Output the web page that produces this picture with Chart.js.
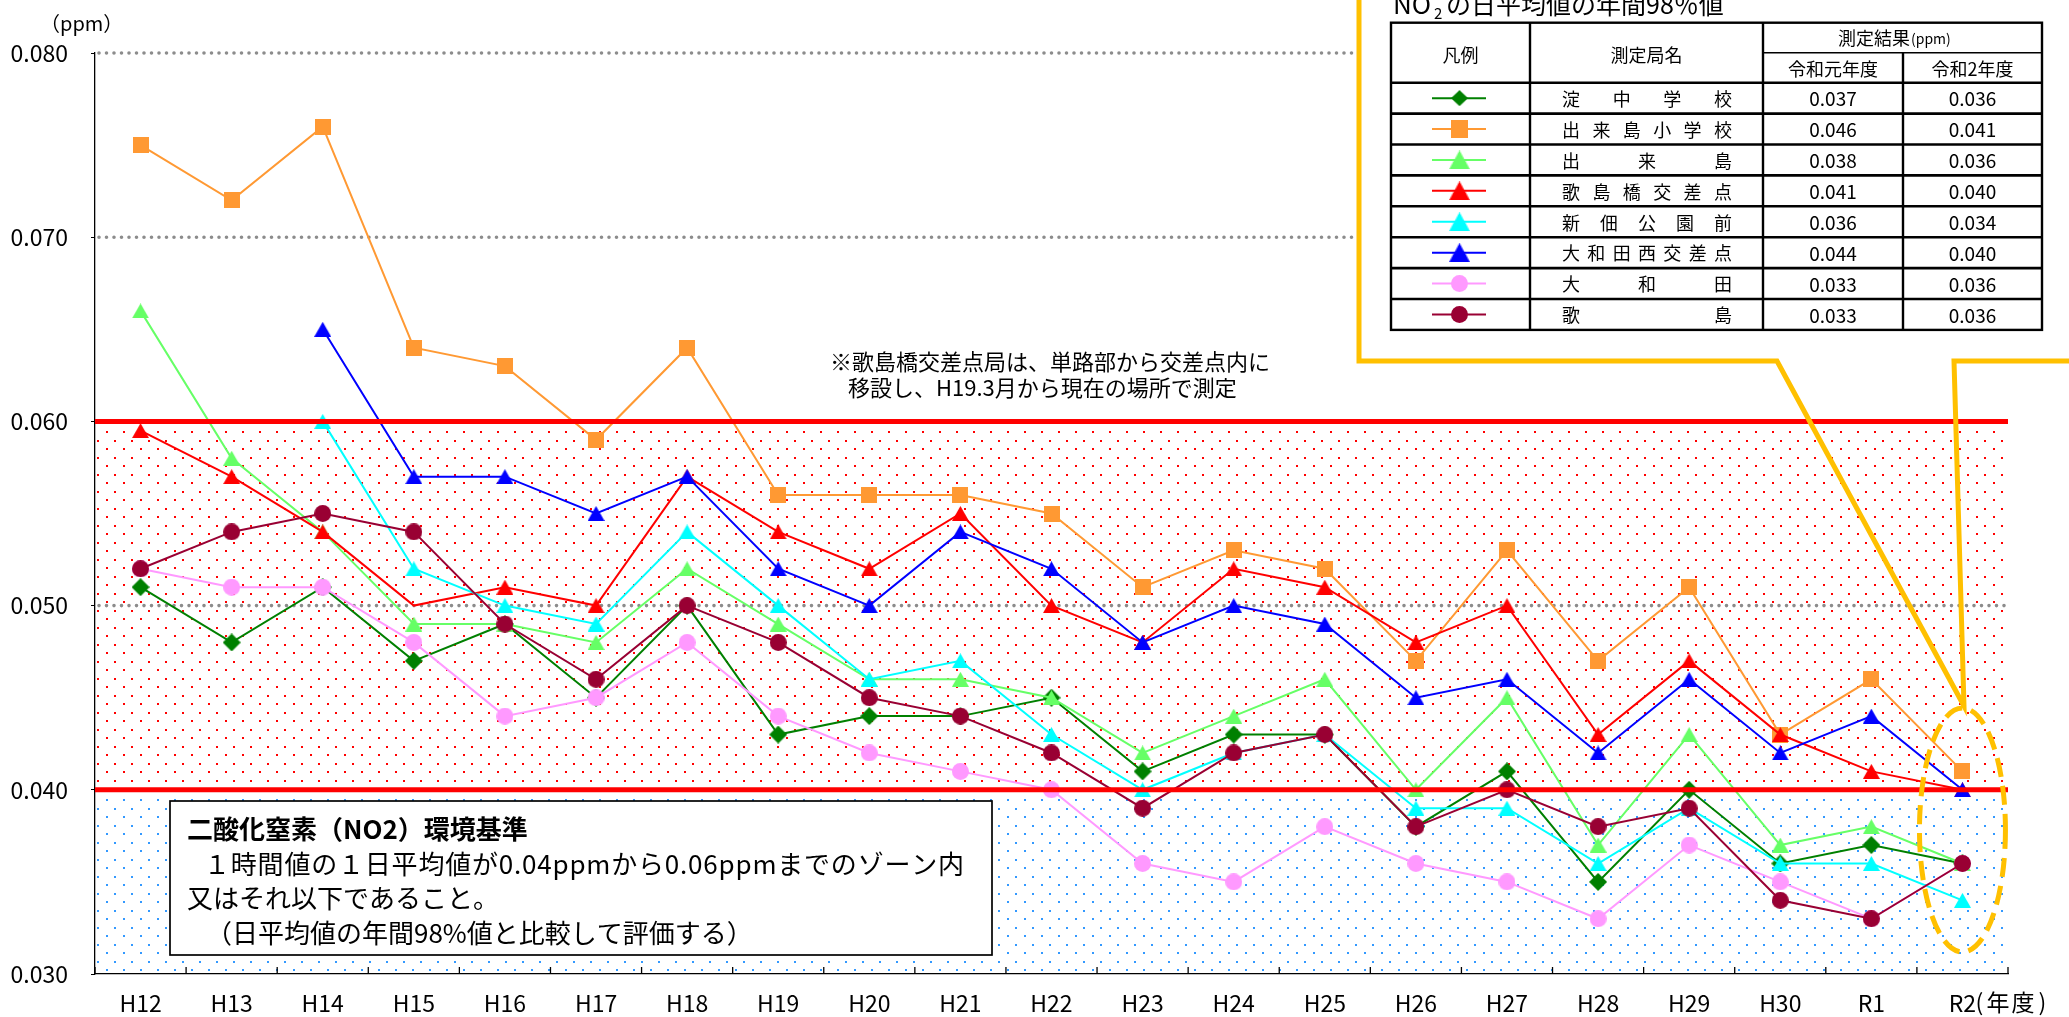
<!DOCTYPE html>
<html>
<head>
<meta charset="utf-8">
<script src="https://cdn.jsdelivr.net/npm/chart.js@4.4.1/dist/chart.umd.min.js"></script>
<style>
html, body { margin: 0; padding: 0; background: #fff; }
#wrap { position: relative; width: 2069px; height: 1017px; }
</style>
</head>
<body>
<div id="wrap"><canvas id="no2Chart"></canvas></div>
<script>
var years = ['H12', 'H13', 'H14', 'H15', 'H16', 'H17', 'H18', 'H19', 'H20', 'H21', 'H22',
             'H23', 'H24', 'H25', 'H26', 'H27', 'H28', 'H29', 'H30', 'R1', 'R2'];
var yTicks = [0.030, 0.040, 0.050, 0.060, 0.070, 0.080];
var dottedGrid = [0.080, 0.070, 0.050];
var zoneTop = 0.060;
var zoneBottom = 0.040;

// 日平均値の年間98%値 (ppm)
var yodoChu      = [0.051, 0.048, 0.051, 0.047, 0.049, 0.045, 0.050, 0.043, 0.044, 0.044, 0.045, 0.041, 0.043, 0.043, 0.038, 0.041, 0.035, 0.040, 0.036, 0.037, 0.036];
var dekijimaSho  = [0.075, 0.072, 0.076, 0.064, 0.063, 0.059, 0.064, 0.056, 0.056, 0.056, 0.055, 0.051, 0.053, 0.052, 0.047, 0.053, 0.047, 0.051, 0.043, 0.046, 0.041];
var dekijima     = [0.066, 0.058, 0.054, 0.049, 0.049, 0.048, 0.052, 0.049, 0.046, 0.046, 0.045, 0.042, 0.044, 0.046, 0.040, 0.045, 0.037, 0.043, 0.037, 0.038, 0.036];
var utajimabashi = [0.0595, 0.057, 0.054, 0.050, 0.051, 0.050, 0.057, 0.054, 0.052, 0.055, 0.050, 0.048, 0.052, 0.051, 0.048, 0.050, 0.043, 0.047, 0.043, 0.041, 0.040];
var shintsukuda  = [null, null, 0.060, 0.052, 0.050, 0.049, 0.054, 0.050, 0.046, 0.047, 0.043, 0.040, 0.042, 0.043, 0.039, 0.039, 0.036, 0.039, 0.036, 0.036, 0.034];
var owadaNishi   = [null, null, 0.065, 0.057, 0.057, 0.055, 0.057, 0.052, 0.050, 0.054, 0.052, 0.048, 0.050, 0.049, 0.045, 0.046, 0.042, 0.046, 0.042, 0.044, 0.040];
var owada        = [0.052, 0.051, 0.051, 0.048, 0.044, 0.045, 0.048, 0.044, 0.042, 0.041, 0.040, 0.036, 0.035, 0.038, 0.036, 0.035, 0.033, 0.037, 0.035, 0.033, 0.036];
var utajima      = [0.052, 0.054, 0.055, 0.054, 0.049, 0.046, 0.050, 0.048, 0.045, 0.044, 0.042, 0.039, 0.042, 0.043, 0.038, 0.040, 0.038, 0.039, 0.034, 0.033, 0.036];

var stationNames = ['淀中学校', '出来島小学校', '出来島', '歌島橋交差点', '新佃公園前', '大和田西交差点', '大和田', '歌島'];
var resultR1 = [0.037, 0.046, 0.038, 0.041, 0.036, 0.044, 0.033, 0.033];
var resultR2 = [0.036, 0.041, 0.036, 0.040, 0.034, 0.040, 0.036, 0.036];

var seriesData = [yodoChu, dekijimaSho, dekijima, utajimabashi, shintsukuda, owadaNishi, owada, utajima];
var seriesColors = ['#008000', '#ff9933', '#66ff66', '#ff0000', '#00ffff', '#0000ff', '#ff99ff', '#990033'];
var seriesShapes = ['diamond', 'square', 'triangle', 'triangle', 'triangle', 'triangle', 'circle', 'circle'];

var FONT = "'Noto Sans CJK JP', 'Noto Sans', sans-serif";

function makeMarker(shape, color) {
    var size = { diamond: [18, 18], square: [16, 16], triangle: [17, 15], circle: [17, 17] }[shape];
    var w = size[0], h = size[1];
    var c = document.createElement('canvas');
    c.width = w;
    c.height = h;
    var g = c.getContext('2d');
    g.fillStyle = color;
    g.beginPath();
    if (shape === 'diamond') {
        g.moveTo(w / 2, 0); g.lineTo(w, h / 2); g.lineTo(w / 2, h); g.lineTo(0, h / 2);
    } else if (shape === 'square') {
        g.rect(0, 0, w, h);
    } else if (shape === 'triangle') {
        g.moveTo(w / 2, 0); g.lineTo(w, h); g.lineTo(0, h);
    } else {
        g.ellipse(w / 2, h / 2, w / 2, h / 2, 0, 0, Math.PI * 2);
    }
    g.closePath();
    g.fill();
    return c;
}

var markers = seriesShapes.map(function (s, i) { return makeMarker(s, seriesColors[i]); });

var datasets = seriesData.map(function (values, i) {
    return {
        label: stationNames[i],
        data: values,
        borderColor: seriesColors[i],
        backgroundColor: seriesColors[i],
        borderWidth: 2,
        pointStyle: markers[i],
        // 歌島橋交差点のH15はマーカーなし
        pointRadius: function (c) { return (i === 3 && c.dataIndex === 3) ? 0 : 9; },
        spanGaps: false,
        order: seriesData.length - 1 - i,
        fill: false,
        tension: 0
    };
});

function dotRows(ctx, x0, x1, yStart, yEnd, color) {
    ctx.fillStyle = color;
    var row = 0;
    for (var yy = yStart; yy <= yEnd; yy += 8.5, row++) {
        for (var xx = x0 + (row % 2 ? 3 : 11.7); xx < x1 - 1; xx += 17) {
            ctx.fillRect(Math.round(xx) - 1, Math.round(yy) - 1, 2, 2);
        }
    }
}

function line(ctx, x1, y1, x2, y2) {
    ctx.beginPath();
    ctx.moveTo(x1, y1);
    ctx.lineTo(x2, y2);
    ctx.stroke();
}

var backgroundPlugin = {
    id: 'zoneBackground',
    beforeDatasetsDraw: function (chart) {
        var ctx = chart.ctx, area = chart.chartArea, y = chart.scales.y;
        ctx.save();
        dotRows(ctx, area.left, area.right, y.getPixelForValue(zoneTop) + 11, y.getPixelForValue(zoneBottom) - 6, '#ff0000');
        dotRows(ctx, area.left, area.right, y.getPixelForValue(zoneBottom) + 10.5, area.bottom - 3, '#3399ff');
        ctx.strokeStyle = '#8c8c8c';
        ctx.lineWidth = 3.6;
        ctx.lineCap = 'round';
        ctx.setLineDash([0, 7.5]);
        dottedGrid.forEach(function (v) {
            var py = y.getPixelForValue(v);
            line(ctx, area.left + 4, py, area.right - 3, py);
        });
        ctx.restore();
    }
};

var overlayPlugin = {
    id: 'overlay',
    afterDatasetsDraw: function (chart) {
        var ctx = chart.ctx, area = chart.chartArea, x = chart.scales.x, y = chart.scales.y;
        ctx.save();
        // 環境基準ゾーンの上限・下限
        ctx.strokeStyle = '#ff0000';
        ctx.lineWidth = 5;
        [zoneTop, zoneBottom].forEach(function (v) {
            var py = y.getPixelForValue(v);
            line(ctx, area.left, py, area.right, py);
        });
        // x軸の内向き目盛り
        ctx.strokeStyle = '#000';
        ctx.lineWidth = 1.3;
        for (var i = 0; i <= years.length; i++) {
            var px = i === 0 ? area.left : (i === years.length ? area.right :
                (x.getPixelForValue(i - 1) + x.getPixelForValue(i)) / 2);
            line(ctx, px, area.bottom, px, area.bottom - 7);
        }
        ctx.restore();
    },
    afterDraw: function (chart) {
        var ctx = chart.ctx, x = chart.scales.x, y = chart.scales.y;
        ctx.save();
        ctx.fillStyle = '#000';
        ctx.textBaseline = 'middle';

        // 単位
        ctx.font = '20px ' + FONT;
        ctx.textAlign = 'left';
        ctx.fillText('（ppm）', 40, 23);

        // 年度
        var xr2 = x.getPixelForValue(years.length - 1);
        ctx.font = '23px ' + FONT;
        ctx.fillText('(', xr2 + 13, y.bottom + 28);
        ctx.fillText('年', xr2 + 24, y.bottom + 28);
        ctx.fillText('度', xr2 + 49, y.bottom + 28);
        ctx.fillText(')', xr2 + 76, y.bottom + 28);

        // 注記
        ctx.font = '22px ' + FONT;
        ctx.fillText('※歌島橋交差点局は、単路部から交差点内に', 830, 362);
        ctx.fillText('移設し、H19.3月から現在の場所で測定', 848, 388);

        // 環境基準の枠
        ctx.fillStyle = '#fff';
        ctx.fillRect(170, 801, 822, 154);
        ctx.strokeStyle = '#000';
        ctx.lineWidth = 1.7;
        ctx.strokeRect(170, 801, 822, 154);
        ctx.fillStyle = '#000';
        ctx.font = 'bold 26px ' + FONT;
        ctx.fillText('二酸化窒素（NO2）環境基準', 187, 829);
        ctx.font = '26px ' + FONT;
        ctx.letterSpacing = '0.8px';
        ctx.fillText('１時間値の１日平均値が0.04ppmから0.06ppmまでのゾーン内', 204, 864);
        ctx.letterSpacing = '0px';
        ctx.fillText('又はそれ以下であること。', 187, 898);
        ctx.fillText('（日平均値の年間98%値と比較して評価する）', 206, 933);

        // 凡例表の吹き出し
        ctx.fillStyle = '#fff';
        ctx.fillRect(1359, 0, 710, 362);
        drawTable(ctx);
        ctx.strokeStyle = '#ffc000';
        ctx.lineWidth = 5;
        ctx.lineJoin = 'miter';
        ctx.beginPath();
        ctx.moveTo(1359, -5);
        ctx.lineTo(1359, 361);
        ctx.lineTo(1777, 361);
        ctx.lineTo(1964, 706);
        ctx.lineTo(1954, 361);
        ctx.lineTo(2075, 361);
        ctx.stroke();

        // R2の破線楕円
        ctx.setLineDash([19, 9]);
        ctx.beginPath();
        ctx.ellipse(xr2, 830, 43, 122, 0, 0, Math.PI * 2);
        ctx.stroke();
        ctx.restore();
    }
};

function drawTable(ctx) {
    var L = 1391, R = 2042, T = 22.7, H1 = 52.7, H2 = 82.7, rowH = 30.9;
    var c1 = 1530, c2 = 1763, c3 = 1903;
    var B = H2 + rowH * stationNames.length;

    ctx.fillStyle = '#000';
    ctx.textBaseline = 'alphabetic';
    ctx.textAlign = 'left';
    ctx.font = '26px ' + FONT;
    ctx.fillText('NO', 1393, 13.5);
    ctx.font = '15px ' + FONT;
    ctx.fillText('2', 1434, 18.5);
    ctx.font = '25px ' + FONT;
    ctx.fillText('の日平均値の年間98％値', 1446, 13.5);

    ctx.strokeStyle = '#000';
    ctx.lineWidth = 2.4;
    ctx.strokeRect(L, T, R - L, B - T);
    line(ctx, c1, T, c1, B);
    line(ctx, c2, T, c2, B);
    line(ctx, c3, H1, c3, B);
    ctx.lineWidth = 1.6;
    line(ctx, c2, H1, R, H1);
    ctx.lineWidth = 2.6;
    for (var r = 0; r < stationNames.length; r++) {
        line(ctx, L, H2 + r * rowH, R, H2 + r * rowH);
    }

    ctx.textBaseline = 'middle';
    ctx.textAlign = 'center';
    ctx.font = '18px ' + FONT;
    ctx.fillText('凡例', (L + c1) / 2, 55);
    ctx.fillText('測定局名', (c1 + c2) / 2, 55);
    ctx.fillText('令和元年度', (c2 + c3) / 2, 69);
    ctx.fillText('令和2年度', (c3 + R) / 2, 69);
    ctx.textAlign = 'left';
    ctx.fillText('測定結果', 1838, 38);
    ctx.font = '14px ' + FONT;
    ctx.fillText('(ppm)', 1911, 39);

    var legendSize = { diamond: [17, 16], square: [17, 18], triangle: [21, 19], circle: [17, 17] };
    for (var i = 0; i < stationNames.length; i++) {
        var cy = H2 + rowH * i + rowH / 2;
        var mx = (L + c1) / 2 - 1;
        ctx.strokeStyle = seriesColors[i];
        ctx.lineWidth = 2;
        line(ctx, 1432, cy, 1486, cy);
        var sz = legendSize[seriesShapes[i]];
        ctx.drawImage(markers[i], mx - sz[0] / 2, cy - sz[1] / 2, sz[0], sz[1]);

        // 均等割り付けの局名
        ctx.font = '18px ' + FONT;
        ctx.textAlign = 'left';
        var chars = stationNames[i].split('');
        var step = (1732 - 18 - 1562) / (chars.length - 1);
        chars.forEach(function (ch, k) {
            ctx.fillText(ch, 1562 + k * step, cy + 1);
        });

        ctx.font = '19px ' + FONT;
        ctx.textAlign = 'center';
        ctx.fillText(resultR1[i].toFixed(3), (c2 + c3) / 2, cy + 1);
        ctx.fillText(resultR2[i].toFixed(3), (c3 + R) / 2, cy + 1);
    }
}

Chart.defaults.font.family = FONT;
Chart.defaults.color = '#000';

var ctx = document.getElementById('no2Chart').getContext('2d');
var no2Chart = new Chart(ctx, {
    type: 'line',
    data: {
        labels: years,
        datasets: datasets
    },
    options: {
        responsive: true,
        maintainAspectRatio: false,
        animation: false,
        events: [],
        layout: { padding: { left: 0, top: 53, right: 61, bottom: 0 } },
        plugins: {
            legend: { display: false },
            tooltip: { enabled: false }
        },
        scales: {
            x: {
                offset: true,
                grid: { display: false, offset: true },
                border: { display: true, color: '#000', width: 1.3 },
                ticks: { font: { size: 23 }, padding: 7, maxRotation: 0, autoSkip: false },
                afterFit: function (scale) { scale.height = 43; }
            },
            y: {
                min: yTicks[0],
                max: yTicks[yTicks.length - 1],
                grid: { drawOnChartArea: false, drawTicks: true, tickLength: 4, color: '#000' },
                border: { display: true, color: '#000', width: 1.3 },
                afterBuildTicks: function (scale) {
                    scale.ticks = yTicks.map(function (v) { return { value: v }; });
                },
                ticks: {
                    font: { size: 23 },
                    padding: 23,
                    callback: function (value) { return Number(value).toFixed(3); }
                },
                afterFit: function (scale) { scale.width = 95; }
            }
        }
    },
    plugins: [backgroundPlugin, overlayPlugin]
});
</script>
</body>
</html>
